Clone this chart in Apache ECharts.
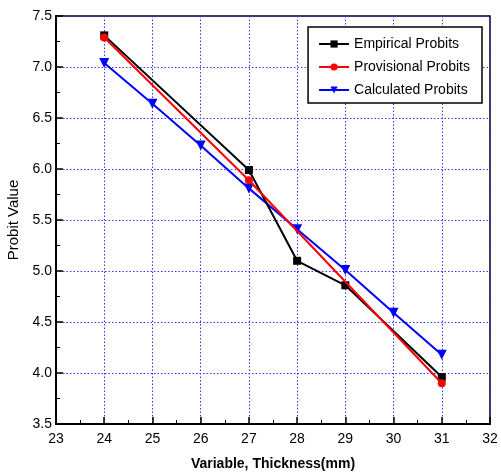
<!DOCTYPE html>
<html><head><meta charset="utf-8">
<script src="https://cdn.jsdelivr.net/npm/echarts@6/dist/echarts.min.js"></script>
<style>html,body{margin:0;padding:0;background:#fff}#c{width:501px;height:473px}</style>
</head><body><div id="c"></div>
<script>
var empiricalX = [24, 27, 28, 29, 31];
var empiricalY = [7.31, 5.99, 5.10, 4.86, 3.96];
var provisionalX = [24, 27, 31];
var provisionalY = [7.29, 5.89, 3.90];
var calculatedX = [24, 25, 26, 27, 28, 29, 30, 31];
var calculatedY = [7.04, 6.64, 6.23, 5.81, 5.41, 5.01, 4.59, 4.18];
var xTicks = ['23','24','25','26','27','28','29','30','31','32'];
var yTicks = ['3.5','4.0','4.5','5.0','5.5','6.0','6.5','7.0','7.5'];

function pairs(xs, ys){ return xs.map(function(x,i){ return [x, ys[i]]; }); }
var FONT = 'Liberation Sans Narrow, Liberation Sans, Arial, sans-serif';

var chart = echarts.init(document.getElementById('c'), null, {renderer:'canvas'});
chart.setOption({
  animation: false,
  backgroundColor: '#fff',
  grid: {left: 56, right: 11, top: 16, bottom: 49, show: true, borderColor: '#000', borderWidth: 1.5,
         containLabel: false, outerBoundsMode: 'none'},
  legend: {
    right: 19, top: 27, orient: 'vertical',
    padding: [10, 12, 6, 10], itemGap: 9,
    borderColor: '#000', borderWidth: 1.5, backgroundColor: '#fff',
    itemWidth: 30, itemHeight: 9,
    textStyle: {fontFamily: FONT, fontSize: 14, color: '#000'},
    data: ['Empirical Probits', 'Provisional Probits', 'Calculated Probits']
  },
  xAxis: {
    type: 'value', min: 23, max: 32, interval: 1,
    name: 'Variable, Thickness(mm)', nameLocation: 'middle', nameGap: 33,
    nameTextStyle: {fontFamily: FONT, fontSize: 14, fontWeight: 'bold', color: '#000'},
    axisLine: {lineStyle: {color: '#000', width: 2}},
    axisTick: {inside: true, length: 7, lineStyle: {color: '#000', width: 1.5}},
    minorTick: {show: true, splitNumber: 2, length: 4, lineStyle: {color: '#000', width: 1}},
    splitLine: {show: true, lineStyle: {color: '#3333ff', type: [1.5, 2], width: 1}},
    axisLabel: {fontFamily: FONT, fontSize: 14, color: '#000', margin: 8,
      formatter: function(v){ return xTicks[Math.round(v - 23)]; }}
  },
  yAxis: {
    type: 'value', min: 3.5, max: 7.5, interval: 0.5,
    name: 'Probit Value', nameLocation: 'middle', nameGap: 32,
    nameTextStyle: {fontFamily: FONT, fontSize: 15, color: '#000'},
    axisLine: {show: true, lineStyle: {color: '#000', width: 2}},
    axisTick: {show: true, inside: true, length: 7, lineStyle: {color: '#000', width: 1.5}},
    minorTick: {show: true, splitNumber: 2, length: 4, lineStyle: {color: '#000', width: 1}},
    splitLine: {show: true, lineStyle: {color: '#3333ff', type: [1.5, 2], width: 1}},
    axisLabel: {fontFamily: FONT, fontSize: 14, color: '#000', margin: 4,
      formatter: function(v){ return yTicks[Math.round((v - 3.5) / 0.5)]; }}
  },
  series: [
    {name: 'Empirical Probits', type: 'line', data: pairs(empiricalX, empiricalY),
     symbol: 'rect', symbolSize: 8, z: 3,
     lineStyle: {color: '#000', width: 2}, itemStyle: {color: '#000'}},
    {name: 'Provisional Probits', type: 'line', data: pairs(provisionalX, provisionalY),
     symbol: 'circle', symbolSize: 8, z: 4,
     lineStyle: {color: '#ff0000', width: 2}, itemStyle: {color: '#ff0000'}},
    {name: 'Calculated Probits', type: 'line', data: pairs(calculatedX, calculatedY),
     symbol: 'triangle', symbolRotate: 180, symbolSize: 10, z: 2,
     lineStyle: {color: '#0000ff', width: 2}, itemStyle: {color: '#0000ff'}}
  ]
});
</script></body></html>
